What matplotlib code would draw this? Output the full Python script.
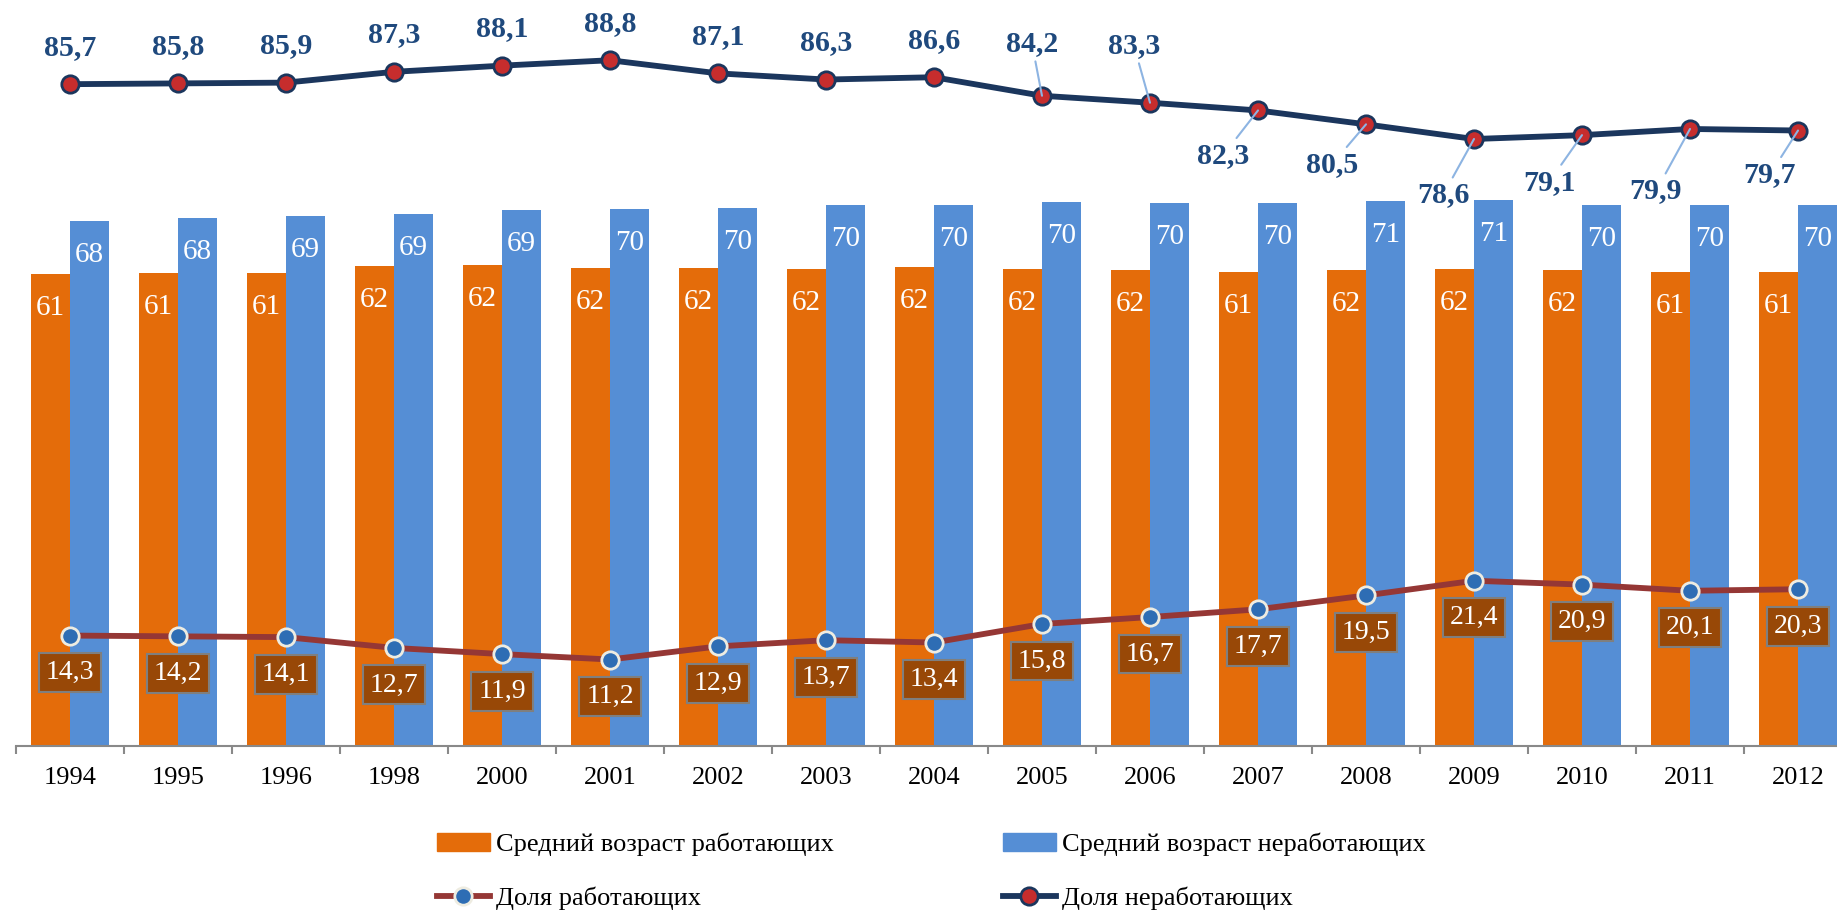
import numpy as np
import matplotlib.pyplot as plt
from matplotlib.lines import Line2D
from matplotlib.patches import Patch

plt.rcParams['font.family'] = ['Liberation Serif', 'DejaVu Serif']

# data
years = [1994, 1995, 1996, 1998, 2000, 2001, 2002, 2003, 2004,
         2005, 2006, 2007, 2008, 2009, 2010, 2011, 2012]
age_working = [61.1, 61.3, 61.3, 62.2, 62.3, 61.9, 61.9, 61.8, 62.0,
               61.8, 61.7, 61.4, 61.7, 61.8, 61.7, 61.4, 61.4]
age_nonworking = [68.0, 68.4, 68.6, 68.9, 69.4, 69.5, 69.7, 70.1, 70.1,
                  70.4, 70.3, 70.3, 70.6, 70.7, 70.1, 70.1, 70.0]
share_working = [14.3, 14.2, 14.1, 12.7, 11.9, 11.2, 12.9, 13.7, 13.4,
                 15.8, 16.7, 17.7, 19.5, 21.4, 20.9, 20.1, 20.3]
share_nonworking = [85.7, 85.8, 85.9, 87.3, 88.1, 88.8, 87.1, 86.3, 86.6,
                    84.2, 83.3, 82.3, 80.5, 78.6, 79.1, 79.9, 79.7]

ORANGE = '#E46C0A'
BLUE = '#558ED5'
NAVY = '#1B365D'
BROWN = '#953735'
LABEL_BLUE = '#1F497D'

# label offsets (pixels) for the upper line; leader lines after 2004
top_offsets = [(0, 37)] * 9 + [(-10, 52), (-16, 57), (-35, -45), (-34, -40),
                               (-31, -56), (-33, -47), (-34, -62), (-28, -44)]


def fmt(v):
    return f"{v:.1f}".replace('.', ',')


fig = plt.figure(figsize=(18.37, 9.13), dpi=100)
ax = fig.add_axes([16 / 1837, 167 / 913, 1836 / 1837, 746 / 913])

x = np.arange(len(years))
w = 0.36
bars_w = ax.bar(x - w / 2, age_working, w, color=ORANGE, zorder=2)
bars_n = ax.bar(x + w / 2, age_nonworking, w, color=BLUE, zorder=2)
for bars, vals in ((bars_w, age_working), (bars_n, age_nonworking)):
    for r, v in zip(bars, vals):
        ax.annotate(f"{v:.0f}", (r.get_x() + r.get_width() / 2, v),
                    xytext=(0, -34), textcoords='offset pixels',
                    ha='center', va='center', color='white', fontsize=21,
                    zorder=3)

ax.plot(x, share_nonworking, color=NAVY, lw=4.2, marker='o', ms=12.5,
        mfc='#C62D2D', mec=NAVY, mew=2, zorder=4)
ax.plot(x, share_working, color=BROWN, lw=4.2, marker='o', ms=12.5,
        mfc='#2E6DB4', mec='#EEECE1', mew=2, zorder=4)

for i, v in enumerate(share_nonworking):
    dx, dy = top_offsets[i]
    props = None
    if i >= 9:
        props = dict(arrowstyle='-', color='#8DB4E2', lw=1.5,
                     shrinkA=1, shrinkB=0)
    ax.annotate(fmt(v), (x[i], v), xytext=(dx, dy), textcoords='offset pixels',
                ha='center', va='center', color=LABEL_BLUE, fontsize=21.5,
                fontweight='bold', arrowprops=props, zorder=5)

for i, v in enumerate(share_working):
    ax.annotate(fmt(v), (x[i], v), xytext=(0, -37), textcoords='offset pixels',
                ha='center', va='center', color='white', fontsize=20,
                bbox=dict(boxstyle='square,pad=0.25', fc='#984807',
                          ec='#7F7F7F', lw=1.5), zorder=5)

ax.set_xlim(-0.5, 16.5)
ax.set_ylim(0, 96.6)
for s in ('top', 'right', 'left'):
    ax.spines[s].set_visible(False)
ax.spines['bottom'].set_color('#898989')
ax.spines['bottom'].set_linewidth(1.5)
ax.set_yticks([])
ax.set_xticks(x)
ax.set_xticklabels([str(y) for y in years], fontsize=19)
ax.set_xticks(np.arange(-0.5, 17, 1), minor=True)
ax.tick_params(axis='x', which='major', length=0, pad=15)
ax.tick_params(axis='x', which='minor', length=6, width=1.5, color='#898989')

h_orange = Patch(color=ORANGE)
h_blue = Patch(color=BLUE)
h_work = Line2D([], [], color=BROWN, lw=4.2, marker='o', ms=12.5,
                mfc='#2E6DB4', mec='#EEECE1', mew=2)
h_nonwork = Line2D([], [], color=NAVY, lw=4.2, marker='o', ms=12.5,
                   mfc='#C62D2D', mec=NAVY, mew=2)

common = dict(frameon=False, fontsize=19, handlelength=2.0, handletextpad=0.25,
              labelspacing=1.15, borderpad=0, borderaxespad=0, numpoints=1,
              loc='center left')
leg1 = fig.legend([h_orange, h_work],
                  ['Средний возраст работающих', 'Доля работающих'],
                  bbox_to_anchor=(437 / 1837, 41.5 / 913), **common)
leg2 = fig.legend([h_blue, h_nonwork],
                  ['Средний возраст неработающих', 'Доля неработающих'],
                  bbox_to_anchor=(1003 / 1837, 41.5 / 913), **common)

fig.savefig('out.png', dpi=100)
